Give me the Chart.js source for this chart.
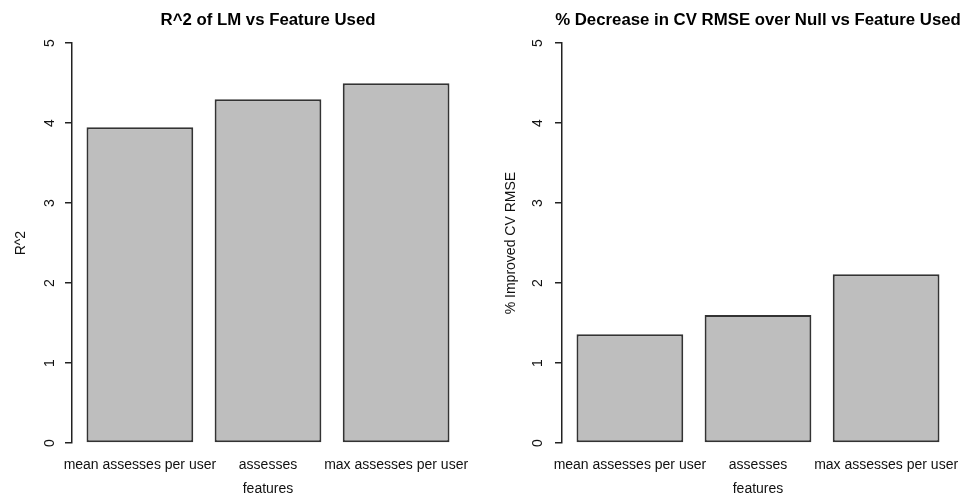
<!DOCTYPE html>
<html><head><meta charset="utf-8">
<script src="https://cdn.jsdelivr.net/npm/chart.js@4/dist/chart.umd.min.js"></script>
<style>
html,body{margin:0;padding:0;background:#fff;overflow:hidden;width:963px;height:498px;position:relative;}
canvas{position:absolute;top:0;}
#c1{left:0px;}
#c2{left:481px;}
</style></head><body>
<canvas id="c1" width="536" height="498" style="width:536px;height:498px"></canvas>
<canvas id="c2" width="554" height="498" style="width:554px;height:498px"></canvas>
<script>
// ---- data ----
const categories = ['mean assesses per user', 'assesses', 'max assesses per user'];
const r2Values = [3.95, 4.30, 4.50];
const rmseValues = [1.36, 1.60, 2.11];
const yTickValues = [0, 1, 2, 3, 4, 5];
const chartTitles = ['R^2 of LM vs Feature Used', '% Decrease in CV RMSE over Null vs Feature Used'];
const yAxisTitles = ['R^2', '% Improved CV RMSE'];
const xAxisTitle = 'features';

Chart.defaults.font.family = "'Liberation Sans', Arial, sans-serif";
Chart.defaults.color = '#000';

// R barplot layout: bar width 1, space 0.2 -> centers at 0.7 + 1.2*i, x range padded 4%
const barCenter = i => 0.7 + 1.2 * i;

function makeChart(id, values, title, yTitle, L) {
  return new Chart(document.getElementById(id), {
    type: 'bar',
    data: {
      datasets: [{
        data: values.map((v, i) => ({ x: barCenter(i), y: v })),
        backgroundColor: '#bebebe',
        borderColor: '#333',
        borderWidth: 2,
        borderSkipped: false,
        barPercentage: 1 / 1.2,
        categoryPercentage: 1
      }]
    },
    options: {
      responsive: false,
      animation: false,
      devicePixelRatio: 1,
      layout: { padding: 0 },
      plugins: {
        legend: { display: false },
        tooltip: { enabled: false },
        title: {
          display: true, text: title, color: '#000',
          font: { size: 16.8, weight: 'bold' },
          padding: { top: 10, bottom: 13 }
        }
      },
      scales: {
        x: {
          type: 'linear', min: 0.064, max: 3.736, offset: false,
          afterBuildTicks: s => { s.ticks = categories.map((c, i) => ({ value: barCenter(i) })); },
          afterFit: s => { s.height = 55; },
          grid: { display: false, drawTicks: false },
          border: { display: false },
          ticks: {
            autoSkip: false, minRotation: 0, maxRotation: 0, padding: 14,
            font: { size: 14 }, color: '#111',
            callback: (v, i) => categories[i]
          },
          title: { display: true, text: xAxisTitle, color: '#111', font: { size: 14 }, padding: { top: 0, bottom: 0 } }
        },
        y: {
          type: 'linear', position: 'left', min: 0, max: 5,
          afterBuildTicks: s => { s.ticks = yTickValues.map(v => ({ value: v })); },
          afterFit: s => { s.width = L.axisW; },
          border: { display: true, color: '#222', width: 1.5 },
          grid: { display: true, drawOnChartArea: false, drawTicks: true, tickLength: 7, color: '#222', lineWidth: 1.5 },
          ticks: { minRotation: 90, maxRotation: 90, crossAlign: 'center', padding: L.tickPad, font: { size: 14 }, color: '#111' },
          title: { display: true, text: yTitle, color: '#111', font: { size: 14 }, padding: { top: L.titlePad, bottom: 0 } }
        },
        pad: {
          type: 'linear', position: 'right', display: true,
          afterFit: s => { s.width = L.axisW; },
          grid: { display: false, drawTicks: false },
          border: { display: false },
          ticks: { display: false }
        }
      }
    }
  });
}

makeChart('c1', r2Values, chartTitles[0], yAxisTitles[0], { axisW: 72, tickPad: 11, titlePad: 13 });
makeChart('c2', rmseValues, chartTitles[1], yAxisTitles[1], { axisW: 81, tickPad: 13, titlePad: 22 });
</script>
</body></html>
